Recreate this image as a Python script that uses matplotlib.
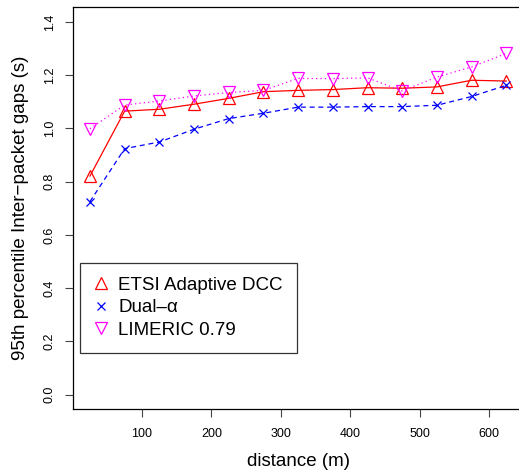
import numpy as np
import matplotlib
matplotlib.use("Agg")
import matplotlib.pyplot as plt

plt.rcParams['font.family'] = ['Liberation Sans', 'DejaVu Sans']

distance = [25, 75, 125, 175, 225, 275, 325, 375, 425, 475, 525, 575, 625]
etsi = [0.821, 1.065, 1.072, 1.091, 1.113, 1.138, 1.143, 1.146, 1.153, 1.151, 1.156, 1.181, 1.178]
dual = [0.725, 0.924, 0.949, 0.997, 1.037, 1.057, 1.080, 1.080, 1.082, 1.082, 1.087, 1.120, 1.162]
limeric = [0.999, 1.088, 1.103, 1.122, 1.135, 1.143, 1.188, 1.187, 1.190, 1.141, 1.193, 1.231, 1.282]

xticks = [100, 200, 300, 400, 500, 600]
yticks = [0.0, 0.2, 0.4, 0.6, 0.8, 1.0, 1.2, 1.4]

fig = plt.figure(figsize=(5.19, 4.74), dpi=100)
# right edge of the box falls just outside the picture, as in the original
ax = fig.add_axes([0.1412, 0.1361, 0.8665, 0.849])

ax.plot(distance, etsi, color='red', ls='-', lw=0.9, marker='^', ms=8.5,
        mfc='none', mec='red', mew=0.9, label='ETSI Adaptive DCC')
ax.plot(distance, dual, color='blue', ls=(0, (4, 3)), lw=0.9, marker='x', ms=6,
        mec='blue', mew=0.9, label='Dual\u2013\u03b1')
ax.plot(distance, limeric, color='magenta', ls=(0, (1, 2.5)), lw=0.9, marker='v', ms=8.5,
        mfc='none', mec='magenta', mew=0.9, label='LIMERIC 0.79')

ax.set_xlim(1, 649)
ax.set_ylim(-0.056, 1.456)
ax.set_xticks(xticks)
ax.set_yticks(yticks)
ax.set_yticklabels(['%.1f' % v for v in yticks], rotation=90, va='center')
ax.tick_params(length=5.5, width=0.8, labelsize=9, color='#444444')
ax.tick_params(axis='x', pad=8)
ax.tick_params(axis='y', pad=7)
for s in ax.spines.values():
    s.set_linewidth(0.9)

ax.set_xlabel('distance (m)', fontsize=13.5, labelpad=9)
ax.set_ylabel('95th percentile Inter\u2212packet gaps (s)', fontsize=13.5, labelpad=11)

leg = ax.legend(loc='upper left', bbox_to_anchor=(6.6 / 448, 0.365),
                fontsize=13.5, frameon=True, fancybox=False, edgecolor='black',
                handlelength=0.8, handletextpad=0.5, labelspacing=0.28,
                borderpad=0.75, borderaxespad=0)
leg.get_frame().set_linewidth(0.9)
for h in leg.legend_handles:
    h.set_linestyle('none')

fig.savefig('out.png', dpi=100)
